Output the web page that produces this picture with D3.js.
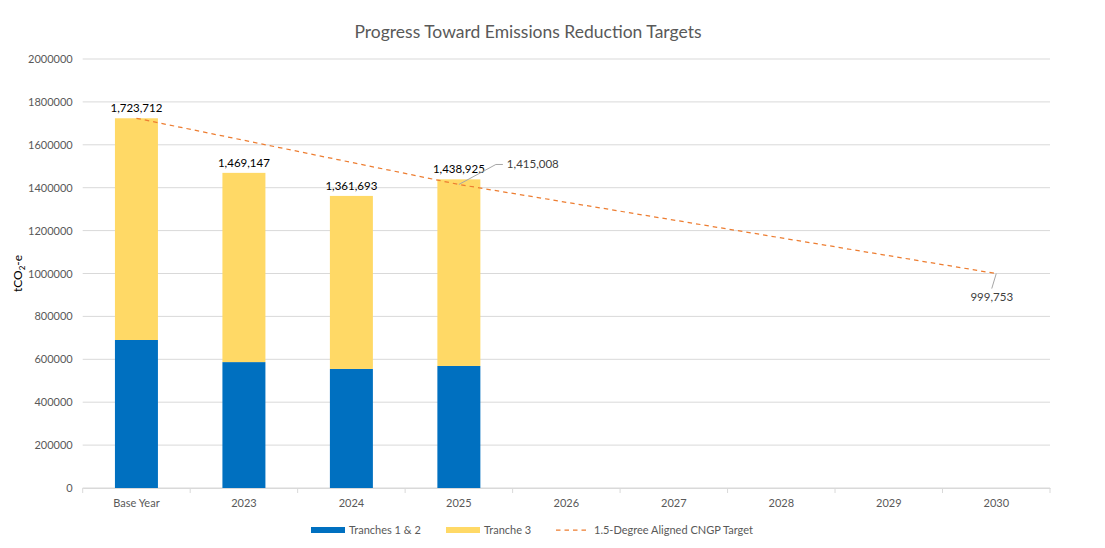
<!DOCTYPE html>
<html>
<head>
<meta charset="utf-8">
<title>Progress Toward Emissions Reduction Targets</title>
<style>
  body { margin: 0; background: #fff; }
  text { font-family: Lato, "Open Sans", sans-serif; }
</style>
</head>
<body>
<script src="https://cdnjs.cloudflare.com/ajax/libs/d3/7.8.5/d3.min.js"></script>
<script>

// categories along the x axis
var categories = ["Base Year", "2023", "2024", "2025", "2026", "2027", "2028", "2029", "2030"];

// stacked bars (only the first four categories have actuals)
var barYears = ["Base Year", "2023", "2024", "2025"];
var tranches12 = [690000, 587000, 555000, 569000];
var tranche3 = [1033712, 882147, 806693, 869925];

// 1.5-degree target line
var targetValues = [1723712, 1621000, 1518000, 1415008, 1332000, 1249000, 1166000, 1083000, 999753];

// y axis ticks
var yTicks = [0, 200000, 400000, 600000, 800000, 1000000, 1200000, 1400000, 1600000, 1800000, 2000000];

var W = 1105, H = 548;
var margin = {top: 59, right: 55, bottom: 60, left: 82.7};
var width = W - margin.left - margin.right,
    height = H - margin.top - margin.bottom;

var blue = "#0070C0", yellow = "#FFD966", orange = "#ED7D31";
var grey = "#595959";

var svg = d3.select("body").append("svg")
    .attr("width", W)
    .attr("height", H);

// title
svg.append("text")
    .attr("x", 528)
    .attr("y", 38)
    .attr("text-anchor", "middle")
    .attr("fill", grey)
    .style("font-size", "17.5px")
    .text("Progress Toward Emissions Reduction Targets");

var g = svg.append("g")
    .attr("transform", "translate(" + margin.left + "," + margin.top + ")");

var x = d3.scaleBand().domain(categories).range([0, width]).paddingInner(0).paddingOuter(0);
var y = d3.scaleLinear().domain([0, 2000000]).range([height, 0]);

var barW = x.bandwidth() * 0.4;

// gridlines
g.selectAll(".grid")
    .data(yTicks)
    .enter().append("line")
    .attr("x1", 0).attr("x2", width)
    .attr("y1", function(d) { return y(d); })
    .attr("y2", function(d) { return y(d); })
    .attr("stroke", "#d9d9d9")
    .attr("stroke-width", 1);

// y axis labels
var yAxis = g.append("g")
    .call(d3.axisLeft(y).tickValues(yTicks).tickFormat(d3.format("d")).tickSize(0).tickPadding(10));
yAxis.select(".domain").remove();
yAxis.selectAll("text")
    .attr("fill", grey)
    .style("font-size", "11px")
    .style("font-family", "Lato, sans-serif");

// x axis
var xAxis = g.append("g")
    .attr("transform", "translate(0," + height + ")")
    .call(d3.axisBottom(x).tickSize(0).tickPadding(11));
xAxis.select(".domain").attr("stroke", "#d9d9d9");
xAxis.selectAll("text")
    .attr("fill", grey)
    .style("font-size", "11px")
    .style("font-family", "Lato, sans-serif");

// category separator ticks
var seps = d3.range(categories.length + 1);
g.selectAll(".sep")
    .data(seps)
    .enter().append("line")
    .attr("x1", function(i) { return i * x.step(); })
    .attr("x2", function(i) { return i * x.step(); })
    .attr("y1", height)
    .attr("y2", height + 5)
    .attr("stroke", "#d9d9d9");

// stacked bars
var stackRows = barYears.map(function(c, i) {
    return {cat: c, t12: tranches12[i], t3: tranche3[i]};
});
var series = d3.stack().keys(["t12", "t3"])(stackRows);
var colours = {t12: blue, t3: yellow};

g.selectAll(".series")
    .data(series)
    .enter().append("g")
    .attr("fill", function(d) { return colours[d.key]; })
    .selectAll("rect")
    .data(function(d) { return d; })
    .enter().append("rect")
    .attr("x", function(d) { return x(d.data.cat) + (x.bandwidth() - barW) / 2; })
    .attr("width", barW)
    .attr("y", function(d) { return y(d[1]); })
    .attr("height", function(d) { return y(d[0]) - y(d[1]); });

// total labels
var fmt = d3.format(",");
g.selectAll(".total")
    .data(stackRows)
    .enter().append("text")
    .attr("x", function(d) { return x(d.cat) + x.bandwidth() / 2; })
    .attr("y", function(d) { return y(d.t12 + d.t3) - 6; })
    .attr("text-anchor", "middle")
    .attr("fill", "#000")
    .style("font-size", "11.5px")
    .text(function(d) { return fmt(d.t12 + d.t3); });

// target line
var line = d3.line()
    .x(function(d, i) { return x(categories[i]) + x.bandwidth() / 2; })
    .y(function(d) { return y(d); });

g.append("path")
    .datum(targetValues)
    .attr("d", line)
    .attr("fill", "none")
    .attr("stroke", orange)
    .attr("stroke-width", 1.25)
    .attr("stroke-dasharray", "4.5,4");

// leader labels for the target line
var cx = function(c) { return x(c) + x.bandwidth() / 2; };
var i25 = categories.indexOf("2025"), i30 = categories.indexOf("2030");
var p25 = [cx("2025"), y(targetValues[i25])];
g.append("polyline")
    .attr("points", [p25, [p25[0] + 37, p25[1] - 20], [p25[0] + 44, p25[1] - 20]].join(" "))
    .attr("fill", "none")
    .attr("stroke", "#a6a6a6")
    .attr("stroke-width", 1);
g.append("text")
    .attr("x", p25[0] + 48)
    .attr("y", p25[1] - 16)
    .attr("fill", "#404040")
    .style("font-size", "11.5px")
    .text(fmt(targetValues[i25]));

var p30 = [cx("2030"), y(targetValues[i30])];
g.append("line")
    .attr("x1", p30[0]).attr("y1", p30[1])
    .attr("x2", p30[0] - 4.5).attr("y2", p30[1] + 15)
    .attr("stroke", "#a6a6a6");
g.append("text")
    .attr("x", p30[0] - 4.5)
    .attr("y", p30[1] + 27)
    .attr("text-anchor", "middle")
    .attr("fill", "#404040")
    .style("font-size", "11.5px")
    .text(fmt(targetValues[i30]));

// y axis title
var yt = svg.append("text")
    .attr("transform", "translate(22," + (margin.top + height / 2) + ") rotate(-90)")
    .attr("text-anchor", "middle")
    .attr("fill", "#000")
    .style("font-size", "12px");
yt.append("tspan").text("tCO");
yt.append("tspan").attr("dy", 3).style("font-size", "8px").text("2");
yt.append("tspan").attr("dy", -3).text("-e");

// legend
var legendItems = [
    {label: "Tranches 1 & 2", type: "rect", colour: blue, x: 311},
    {label: "Tranche 3", type: "rect", colour: yellow, x: 446},
    {label: "1.5-Degree Aligned CNGP Target", type: "line", colour: orange, x: 556}
];
var lg = svg.append("g").attr("transform", "translate(0,530)");
legendItems.forEach(function(d) {
    if (d.type === "rect") {
        lg.append("rect").attr("x", d.x).attr("y", -3).attr("width", 34).attr("height", 6).attr("fill", d.colour);
    } else {
        lg.append("line").attr("x1", d.x).attr("x2", d.x + 34).attr("y1", 0).attr("y2", 0)
            .attr("stroke", d.colour).attr("stroke-width", 1.25).attr("stroke-dasharray", "4.5,4");
    }
    lg.append("text")
        .attr("x", d.x + 38)
        .attr("y", 4)
        .attr("fill", grey)
        .style("font-size", "11px")
        .text(d.label);
});

</script>
</body>
</html>
